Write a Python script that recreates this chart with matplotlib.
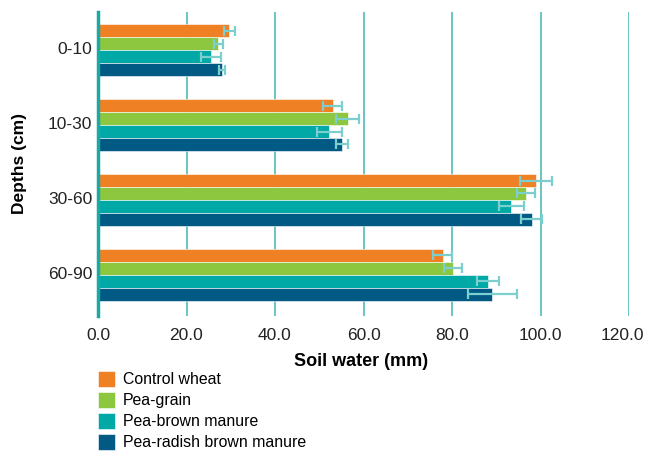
import numpy as np
import matplotlib
matplotlib.use('Agg')
from matplotlib import pyplot as plt
from matplotlib.transforms import ScaledTranslation

plt.rcParams['font.family'] = ['Liberation Sans', 'DejaVu Sans']

depths = ['0-10', '10-30', '30-60', '60-90']
series = ['Control wheat', 'Pea-grain', 'Pea-brown manure', 'Pea-radish brown manure']
colors = ['#f08024', '#8dc63f', '#00a9a6', '#005a84']

# soil water (mm) for each treatment at each depth, with error
control = [29.7, 53.0, 99.0, 77.9]
control_err = [1.2, 2.2, 3.6, 2.2]
grain = [27.2, 56.4, 96.7, 80.3]
grain_err = [1.0, 2.6, 2.0, 2.0]
brown = [25.5, 52.3, 93.4, 88.2]
brown_err = [2.3, 2.9, 2.8, 2.5]
radish = [28.1, 55.1, 98.0, 89.1]
radish_err = [0.7, 1.3, 2.3, 5.5]

values = [control, grain, brown, radish]
errors = [control_err, grain_err, brown_err, radish_err]

fig = plt.figure(figsize=(6.46, 4.54), dpi=100)
ax = fig.add_axes([98/646, 1-316/454, (629-98)/646, (316-12)/454])

y = np.arange(len(depths))
h = 0.173
for i in range(4):
    pos = y + (i - 1.5) * h
    ax.barh(pos, values[i], height=h, color=colors[i], edgecolor='#ffffff',
            linewidth=0.4, zorder=2, label=series[i])
    ax.errorbar(values[i], pos, xerr=errors[i], fmt='none', ecolor='#7dcfcf',
                elinewidth=1.6, capsize=3.3, capthick=1.6, zorder=3)

ax.set_xlim(0, 120)
ax.set_ylim(3.55, -0.51)
ax.set_xticks(np.arange(0, 121, 20))
ax.set_xticklabels(['%.1f' % v for v in np.arange(0, 121, 20)])
ax.set_yticks(y)
ax.set_yticklabels(depths)
ax.tick_params(axis='both', length=0, labelsize=12.5, colors='#222222')
ax.tick_params(axis='x', pad=8.5)
ax.tick_params(axis='y', pad=4)
# last label is pushed left so it stays inside the picture
last = ax.get_xticklabels()[-1]
last.set_transform(last.get_transform() + ScaledTranslation(-7/100, 0, fig.dpi_scale_trans))
for lab in ax.get_yticklabels():
    lab.set_transform(lab.get_transform() + ScaledTranslation(0, 2/100, fig.dpi_scale_trans))

ax.xaxis.grid(True, color='#3db7b3', linewidth=1.1, zorder=0)
ax.set_axisbelow(True)
for s in ['top', 'right', 'bottom']:
    ax.spines[s].set_visible(False)
ax.spines['left'].set_color('#1aa9a5')
ax.spines['left'].set_linewidth(2.5)

fig.text(361/646, 1-361/454, 'Soil water (mm)', ha='center', va='center',
         fontsize=13, fontweight='bold')
fig.text(20/646, 1-164/454, 'Depths (cm)', ha='center', va='center',
         rotation=90, fontsize=12.5, fontweight='bold')

hs, ls = ax.get_legend_handles_labels()
fig.legend(hs, ls, loc='upper left', bbox_to_anchor=(98/646, 1-371/454),
           frameon=False, fontsize=11.4, handlelength=1.05, handleheight=1.15,
           handletextpad=0.5, labelspacing=0.3, borderaxespad=0, borderpad=0)

fig.savefig('out.png', dpi=100)
